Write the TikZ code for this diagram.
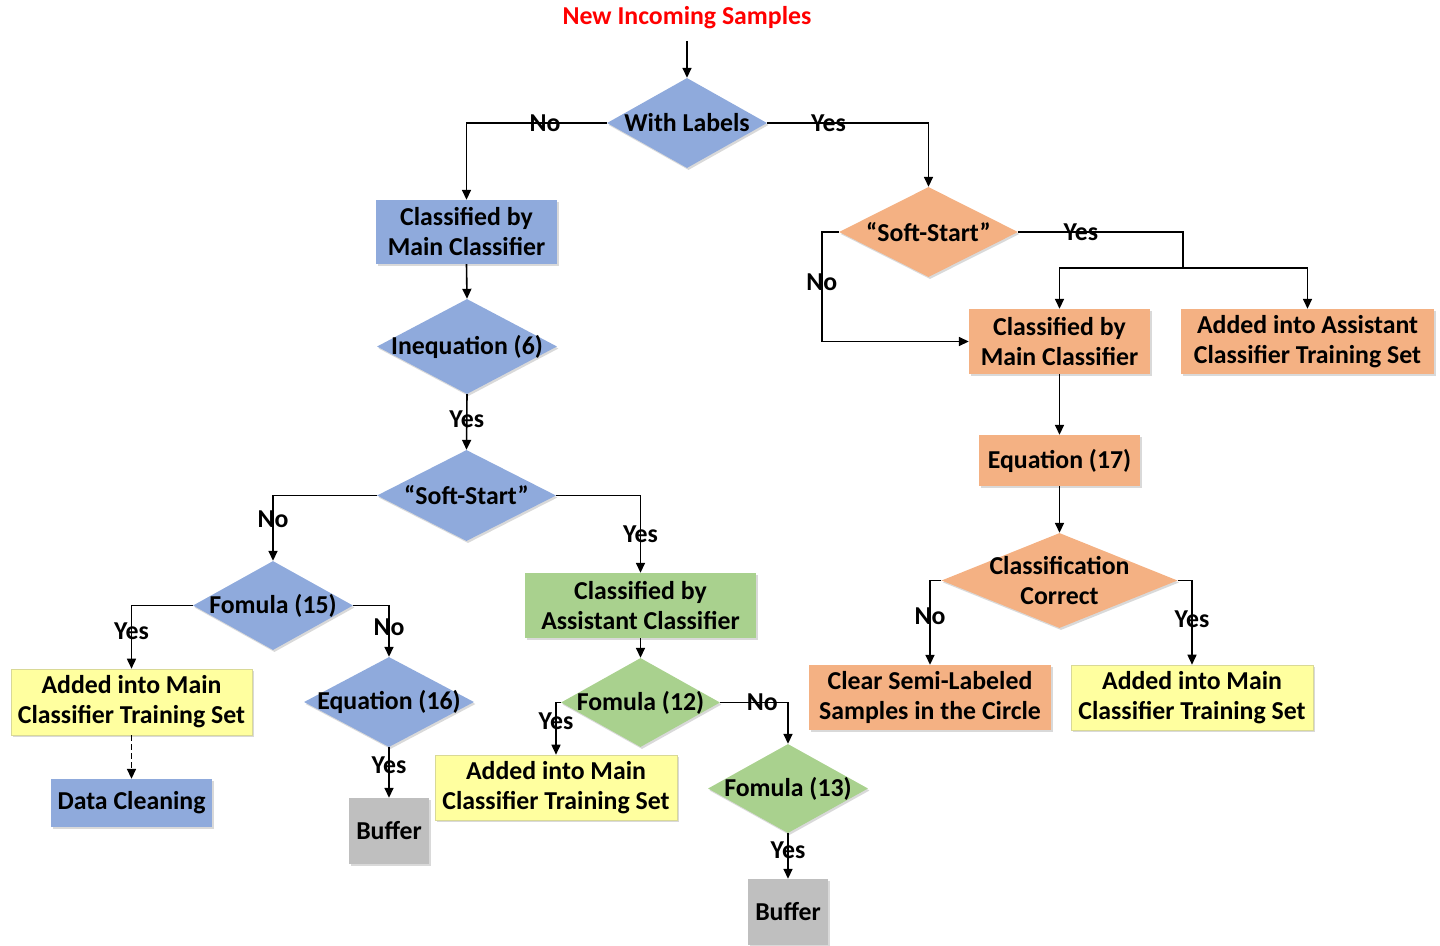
\documentclass[tikz,border=0pt]{standalone}
\usepackage{fontspec}
\setmainfont{Carlito}
\usetikzlibrary{shapes.geometric,arrows.meta,shadows}
\definecolor{cblue}{HTML}{8FAADC}
\definecolor{corange}{HTML}{F4B183}
\definecolor{cgreen}{HTML}{A9D18E}
\definecolor{cyellow}{HTML}{FFFF9F}
\definecolor{cgray}{HTML}{BFBFBF}
\definecolor{cred}{HTML}{FF0000}
\begin{document}
\begin{tikzpicture}[x=1pt,y=-1pt,
  txt/.style={font=\bfseries\fontsize{25.8}{30}\selectfont, align=center, text=black},
  sh/.style={drop shadow={shadow xshift=1.5pt, shadow yshift=-2pt, fill=black, opacity=0.15}},
  box/.style={txt, rectangle, inner sep=0pt, sh},
  dia/.style={diamond, inner sep=0pt, sh},
  lab/.style={txt, inner sep=0pt},
  arr/.style={draw=black, line width=1.6pt, -{Triangle[length=10pt,width=9pt]}},
  ln/.style={draw=black, line width=1.6pt},
  ]
\useasboundingbox (0,0) rectangle (1440,945);

% title
\node[txt, text=cred] (title) at (687,18) {New Incoming Samples};

% nodes
\node[dia, fill=cblue, minimum width=160pt, minimum height=90pt, label={[txt]center:With Labels}] (wl) at (687,123) {};
\node[box, fill=cblue, minimum width=181pt, minimum height=64pt] (cm1) at (466.5,232) {Classified by\\Main Classifier};
\node[dia, fill=cblue, minimum width=180pt, minimum height=95pt, label={[txt]center:Inequation (6)}] (ineq) at (467,346.5) {};
\node[dia, fill=cblue, minimum width=179pt, minimum height=91pt, label={[txt]center:\char"201C Soft-Start\char"201D}] (ss1) at (466.5,495.5) {};
\node[dia, fill=cblue, minimum width=160pt, minimum height=89pt, label={[txt]center:Fomula (15)}] (f15) at (273,605.5) {};
\node[box, fill=cyellow, draw=cyellow!70!gray, line width=0.6pt, minimum width=241pt, minimum height=66pt] (add1) at (131.5,702) {Added into Main\\Classifier Training Set};
\node[box, fill=cblue, minimum width=161pt, minimum height=48pt] (dc) at (131.5,803) {Data Cleaning};
\node[dia, fill=cblue, minimum width=170pt, minimum height=90pt, label={[txt]center:Equation (16)}] (eq16) at (389,702) {};
\node[box, fill=cgray, minimum width=80pt, minimum height=66pt] (buf1) at (389,831) {Buffer};
\node[box, fill=cgreen, minimum width=231pt, minimum height=65pt] (ca) at (640.5,605.5) {Classified by\\Assistant Classifier};
\node[dia, fill=cgreen, minimum width=159pt, minimum height=89pt, label={[txt]center:Fomula (12)}] (f12) at (640.5,702.5) {};
\node[box, fill=cyellow, draw=cyellow!70!gray, line width=0.6pt, minimum width=242pt, minimum height=65pt] (add2) at (556,787.5) {Added into Main\\Classifier Training Set};
\node[dia, fill=cgreen, minimum width=160pt, minimum height=89pt, label={[txt]center:Fomula (13)}] (f13) at (788,788.5) {};
\node[box, fill=cgray, minimum width=80pt, minimum height=66pt] (buf2) at (788,912) {Buffer};

\node[dia, fill=corange, minimum width=179pt, minimum height=90pt, label={[txt]center:\char"201C Soft-Start\char"201D}] (ss2) at (928.5,232) {};
\node[box, fill=corange, minimum width=181pt, minimum height=65pt] (cm2) at (1059.5,341.5) {Classified by\\Main Classifier};
\node[box, fill=corange, minimum width=253pt, minimum height=65pt] (aa) at (1307.5,341.5) {Added into Assistant\\Classifier Training Set};
\node[box, fill=corange, minimum width=161pt, minimum height=51pt] (eq17) at (1059.5,460.5) {Equation (17)};
\node[dia, fill=corange, minimum width=236pt, minimum height=95pt, label={[txt]center:{Classification\\Correct}}] (cc) at (1059.5,580.5) {};
\node[box, fill=corange, minimum width=242pt, minimum height=65pt] (clr) at (930,697.5) {Clear Semi-Labeled\\Samples in the Circle};
\node[box, fill=cyellow, draw=cyellow!70!gray, line width=0.6pt, minimum width=242pt, minimum height=65pt] (add3) at (1192,697.5) {Added into Main\\Classifier Training Set};

\coordinate (split) at (1183,268);

% connectors
\draw[arr, shorten <=8pt] (title.south) -- (wl.north);
\draw[arr] (wl.west) -| node[lab, pos=0.22] {No} (cm1.north);
\draw[arr] (wl.east) -| node[lab, pos=0.19] {Yes} (ss2.north);
\draw[arr] (cm1.south) -- (ineq.north);
\draw[arr] (ineq.south) -- node[lab, pos=0.45] {Yes} (ss1.north);
\draw[arr] (ss1.west) -| node[lab, pos=0.68] {No} (f15.north);
\draw[arr] (ss1.east) -| node[lab, pos=0.75] {Yes} (ca.north);
\draw[arr] (f15.west) -| node[lab, pos=0.7] {Yes} (add1.north);
\draw[arr] (f15.east) -| node[lab, pos=0.71] {No} (eq16.north);
\draw[arr, dash pattern=on 6pt off 3pt] (add1.south) -- (dc.north);
\draw[arr] (eq16.south) -- node[lab, pos=0.35] {Yes} (buf1.north);
\draw[arr] (ca.south) -- (f12.north);
\draw[arr] (f12.west) -| node[lab, pos=0.68] {Yes} (add2.north);
\draw[arr] (f12.east) -| node[lab, pos=0.31] {No} (f13.north);
\draw[arr] (f13.south) -- node[lab, pos=0.37] {Yes} (buf2.north);

\draw[ln] (ss2.east) -| node[lab, pos=0.19] {Yes} (split);
\draw[arr] (split) -| (cm2.north);
\draw[arr] (split) -| (aa.north);
\draw[arr] (ss2.west) -- ++(-17,0) |- node[lab, pos=0.23] {No} (cm2.west);
\draw[arr] (cm2.south) -- (eq17.north);
\draw[arr] (eq17.south) -- (cc.north);
\draw[arr] (cc.west) -| node[lab, pos=0.71] {No} (clr.north);
\draw[arr] (cc.east) -| node[lab, pos=0.73] {Yes} (add3.north);
\end{tikzpicture}
\end{document}
